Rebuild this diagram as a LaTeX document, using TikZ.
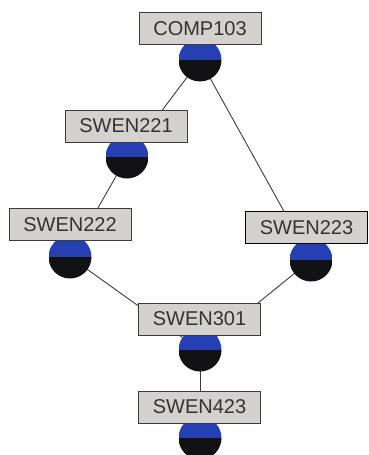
\documentclass[tikz,border=0pt]{standalone}
\usepackage{fontspec}
\setmainfont{Liberation Sans}
\usetikzlibrary{backgrounds}
\definecolor{BoxGrey}{RGB}{212, 210, 206}
\definecolor{KnobBlue}{RGB}{36, 64, 178}
\definecolor{KnobBlack}{RGB}{18, 18, 20}
\definecolor{LinkGrey}{RGB}{60, 60, 60}
\newcommand{\lw}{0.9pt}

\begin{document}
\begin{tikzpicture}[x=1pt, y=-1pt,
  course/.style={draw=LinkGrey, fill=BoxGrey, line width=\lw, minimum width=122pt,
    minimum height=32pt, inner sep=0pt, text=black!80,
    font=\fontsize{20}{22}\selectfont},
  knob/.style={circle, minimum size=43pt, inner sep=0pt,
    path picture={
      \fill[KnobBlue] (path picture bounding box.west) rectangle (path picture bounding box.north east);
      \fill[KnobBlack] (path picture bounding box.west) rectangle (path picture bounding box.south east);
    }},
  link/.style={draw=LinkGrey, line width=\lw}]
  \useasboundingbox (0,0) rectangle (369,455);
  \clip (0,0) rectangle (369,455);
  % knobs sit under the boxes
  \node[knob] (comp103k) at (200, 60) {};
  \node[course] (comp103) at (200, 28.5) {COMP103};
  \node[knob] (swen221k) at (127, 157) {};
  \node[course] (swen221) at (126, 126) {SWEN221};
  \node[knob] (swen222k) at (70, 257) {};
  \node[course] (swen222) at (70, 224.5) {SWEN222};
  \node[knob] (swen223k) at (311, 260) {};
  \node[course, draw=black, line width=1.6pt] (swen223) at (306.5, 227.5) {SWEN223};
  \node[knob] (swen301k) at (200, 350) {};
  \node[course] (swen301) at (199.5, 319) {SWEN301};
  \node[knob] (swen423k) at (200, 438) {};
  \node[course] (swen423) at (199.5, 407) {SWEN423};
  \begin{scope}[on background layer]
    \draw[link] (comp103k.center) -- (swen221k.center);
    \draw[link] (comp103k.center) -- (swen223k.center);
    \draw[link] (swen221k.center) -- (swen222k.center);
    \draw[link] (swen222k.center) -- (swen301k.center);
    \draw[link] (swen223k.center) -- (swen301k.center);
    \draw[link] (swen301k.center) -- (swen423k.center);
  \end{scope}
\end{tikzpicture}
\end{document}
